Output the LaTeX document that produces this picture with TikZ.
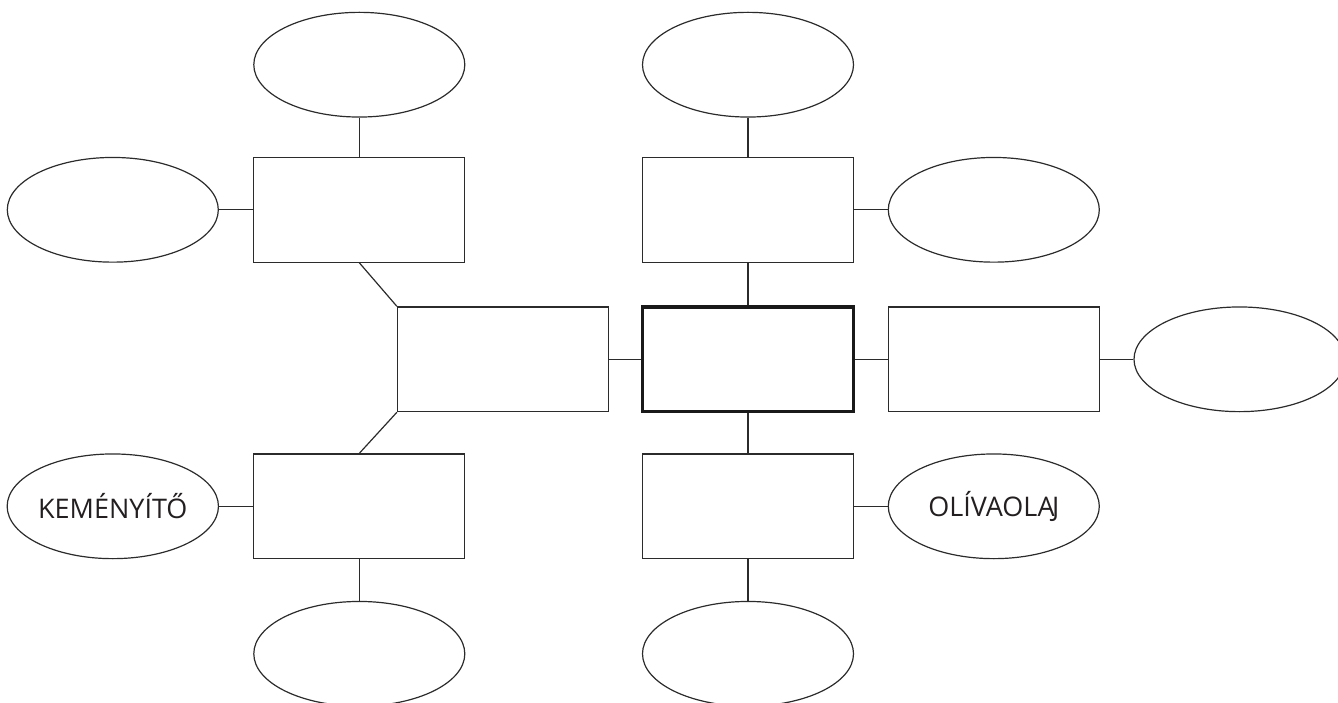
\documentclass[tikz,border=0pt]{standalone}
\usepackage{fontspec}
\setmainfont{Open Sans}
\usetikzlibrary{shapes.geometric}
\definecolor{ink}{HTML}{2B2B2B}
\definecolor{letter}{HTML}{231F20}
\begin{document}
\begin{tikzpicture}[x=1pt,y=-1pt,
  box/.style={draw=ink, line width=1.2pt, rectangle, minimum width=211pt, minimum height=104.7pt, inner sep=0pt},
  oval/.style={draw=ink, line width=1.2pt, ellipse, minimum width=211pt, minimum height=104.7pt, inner sep=0pt,
    font=\fontsize{27}{30}\selectfont, text=letter},
  hub/.style={box, draw=black!90, line width=3.2pt},
  link/.style={draw=ink, line width=1.2pt}]
\useasboundingbox (0,0) rectangle (1338,703);

% upper left group
\node[oval] (tlE) at (359.3,64.7) {};
\node[oval] (lE)  at (112.8,209.8) {};
\node[box]  (tl)  at (359.3,209.8) {};

% upper right group
\node[oval] (trE) at (748,64.7) {};
\node[box]  (tr)  at (748,209.8) {};
\node[oval] (rE)  at (993.8,209.8) {};

% middle row
\node[box]  (ml)  at (503,359.3) {};
\node[hub]  (hb)  at (748,359.3) {};
\node[box]  (rb)  at (993.8,359.3) {};
\node[oval] (frE) at (1239.5,359.3) {};

% lower left group
\node[oval] (kE)  at (112.8,506.3) {KEMÉNYÍTŐ};
\node[box]  (bl)  at (359.3,506.3) {};
\node[oval] (blE) at (359.3,653.8) {};

% lower right group
\node[box]  (br)  at (748,506.3) {};
\node[oval] (oE)  at (993.8,506.3) {OLÍVAOLA\kern-2.5pt J};
\node[oval] (brE) at (748,653.8) {};

% connectors
\draw[link] (tlE.south) -- (tl.north);
\draw[link] (lE.east) -- (tl.west);
\draw[link] (tl.south) -- (ml.north west);
\draw[link] (bl.north) -- (ml.south west);
\draw[link] (ml.east) -- (hb.west);
\draw[link] (hb.east) -- (rb.west);
\draw[link] (rb.east) -- (frE.west);
\draw[link] (hb.north) -- (tr.south);
\draw[link] (trE.south) -- (tr.north);
\draw[link] (tr.east) -- (rE.west);
\draw[link] (hb.south) -- (br.north);
\draw[link] (br.east) -- (oE.west);
\draw[link] (br.south) -- (brE.north);
\draw[link] (kE.east) -- (bl.west);
\draw[link] (bl.south) -- (blE.north);
\end{tikzpicture}
\end{document}
